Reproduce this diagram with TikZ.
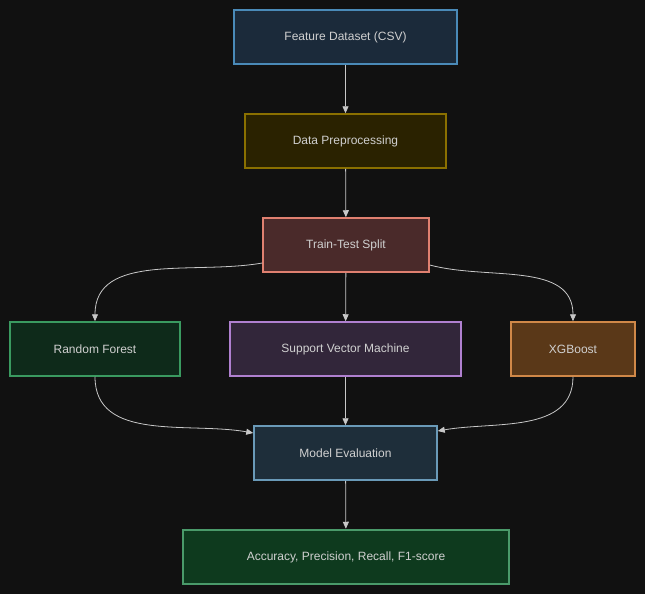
\documentclass[tikz,border=0pt]{standalone}
\usepackage{fontspec}
\setmainfont{Liberation Sans}
\usetikzlibrary{arrows.meta}
\definecolor{bg}{HTML}{111111}
\definecolor{txt}{HTML}{D0D0D0}
\definecolor{edge}{HTML}{C8C8C8}
\definecolor{dataF}{HTML}{1B2A3A}\definecolor{dataD}{HTML}{4A8AB8}
\definecolor{prepF}{HTML}{2A2200}\definecolor{prepD}{HTML}{8A7000}
\definecolor{splitF}{HTML}{4A2A2A}\definecolor{splitD}{HTML}{E08070}
\definecolor{rfF}{HTML}{0E2A1A}\definecolor{rfD}{HTML}{3A9A60}
\definecolor{svmF}{HTML}{32263A}\definecolor{svmD}{HTML}{B080D0}
\definecolor{xgbF}{HTML}{5A3818}\definecolor{xgbD}{HTML}{D08848}
\definecolor{evalF}{HTML}{1E2E3A}\definecolor{evalD}{HTML}{6A9AB8}
\definecolor{metF}{HTML}{0E3A1E}\definecolor{metD}{HTML}{4A9A6A}
\tikzset{
box/.style={draw, line width=1.5pt, minimum height=54pt, text=txt, font=\fontsize{12pt}{14pt}\selectfont, inner sep=0pt},
link/.style={edge, line width=0.8pt, -{Triangle[length=7pt, width=6pt]}}
}
\begin{document}
\begin{tikzpicture}[x=1pt, y=-1pt]
\fill[bg] (0,0) rectangle (645,594);
\useasboundingbox (0,0) rectangle (645,594);

\node[box, fill=dataF, draw=dataD, minimum width=223pt] (data) at (345.5,37) {Feature Dataset (CSV)};
\node[box, fill=prepF, draw=prepD, minimum width=201pt] (prep) at (345.5,141) {Data Preprocessing};
\node[box, fill=splitF, draw=splitD, minimum width=166pt] (split) at (346,245) {Train-Test Split};
\node[box, fill=rfF, draw=rfD, minimum width=170pt] (rf) at (95,349) {Random Forest};
\node[box, fill=svmF, draw=svmD, minimum width=231pt] (svm) at (345.5,349) {Support Vector Machine};
\node[box, fill=xgbF, draw=xgbD, minimum width=124pt] (xgb) at (573,349) {XGBoost};
\node[box, fill=evalF, draw=evalD, minimum width=183pt] (eval) at (345.5,453) {Model Evaluation};
\node[box, fill=metF, draw=metD, line width=2.5pt, minimum width=326pt] (metrics) at (346,557) {Accuracy, Precision, Recall, F1-score};

\draw[link] (data) -- (prep);
\draw[link] (prep) -- (split);
\draw[link] (split) -- (svm);
\draw[link] (split.west |- 0,263) to[out=190, in=90] (rf.north);
\draw[link] (split.east |- 0,265) to[out=-15, in=90] (xgb.north);
\draw[link] (rf.south) to[out=-90, in=170] (eval.west |- 0,433);
\draw[link] (xgb.south) to[out=-90, in=10] (eval.east |- 0,431);
\draw[link] (svm) -- (eval);
\draw[link] (eval) -- (metrics);
\end{tikzpicture}
\end{document}
